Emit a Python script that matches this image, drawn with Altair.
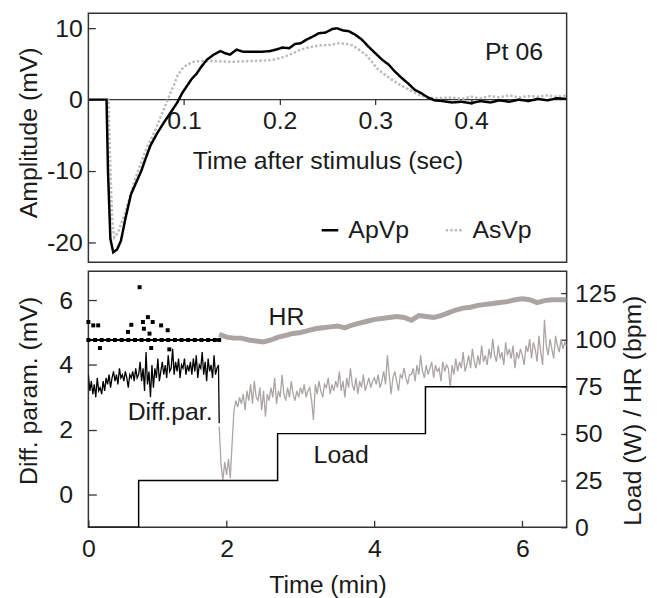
import altair as alt
import pandas as pd

FONT = "Liberation Sans"
BLACK = "#000000"
GRAY_TOP = "#bcbcbc"
GRAY_BOT = "#aca4a2"
FRAME = "#333333"
TXT = "#1a1a1a"

# ---------------- top panel: evoked response (time in s, amplitude in mV)
apvp = [(0.000, 0.0), (0.019, 0.0), (0.0205, -10.0), (0.023, -19.5), (0.026, -21.4),
        (0.030, -21.0), (0.034, -19.8), (0.039, -16.5), (0.0445, -13.3), (0.050, -11.6),
        (0.055, -10.1), (0.060, -8.2), (0.065, -6.4), (0.072, -4.7), (0.079, -3.2),
        (0.086, -1.8), (0.093, -0.4), (0.098, 0.9), (0.103, 1.9), (0.108, 2.9),
        (0.113, 3.6), (0.118, 4.6), (0.124, 5.6), (0.131, 6.3), (0.138, 6.8),
        (0.143, 6.5), (0.148, 6.3), (0.155, 7.0), (0.162, 6.7), (0.170, 6.7),
        (0.180, 6.7), (0.190, 6.8), (0.196, 7.0), (0.203, 7.3), (0.210, 7.2),
        (0.216, 7.8), (0.222, 7.9), (0.228, 8.4), (0.234, 8.8), (0.241, 9.3),
        (0.248, 9.4), (0.255, 9.9), (0.260, 10.0), (0.266, 9.7), (0.272, 9.6),
        (0.279, 9.1), (0.286, 8.4), (0.293, 7.4), (0.300, 6.5), (0.307, 5.6),
        (0.314, 4.9), (0.320, 4.0), (0.327, 3.1), (0.334, 2.3), (0.341, 1.4),
        (0.348, 0.9), (0.355, 0.3), (0.362, -0.1), (0.370, -0.2), (0.380, -0.4),
        (0.390, -0.3), (0.400, -0.5), (0.410, -0.2), (0.420, -0.4), (0.430, -0.1),
        (0.440, -0.3), (0.450, 0.0), (0.460, -0.2), (0.470, 0.1), (0.480, -0.1),
        (0.490, 0.2), (0.500, 0.1)]

asvp = [(0.000, 0.0), (0.021, 0.0), (0.023, -10.0), (0.025, -17.0), (0.027, -19.3),
        (0.031, -18.6), (0.034, -17.5), (0.038, -16.1), (0.043, -13.8), (0.048, -11.5),
        (0.053, -9.6), (0.058, -7.8), (0.063, -6.2), (0.069, -4.6), (0.074, -2.9),
        (0.079, -1.3), (0.083, 0.0), (0.086, 1.0), (0.090, 2.2), (0.093, 3.3),
        (0.098, 4.3), (0.103, 4.9), (0.110, 5.3), (0.117, 5.4), (0.130, 5.4),
        (0.150, 5.3), (0.170, 5.4), (0.186, 5.5), (0.193, 5.6), (0.200, 5.8),
        (0.207, 6.1), (0.214, 6.5), (0.220, 6.9), (0.227, 7.2), (0.234, 7.4),
        (0.241, 7.6), (0.252, 7.65), (0.262, 7.9), (0.270, 7.8), (0.276, 7.6),
        (0.283, 7.0), (0.290, 6.3), (0.297, 5.2), (0.303, 4.2), (0.310, 3.5),
        (0.317, 2.8), (0.324, 2.2), (0.331, 1.7), (0.338, 1.2), (0.345, 0.7),
        (0.355, 0.3), (0.365, 0.2), (0.380, 0.3), (0.390, 0.1), (0.400, 0.4),
        (0.410, 0.2), (0.420, 0.5), (0.430, 0.3), (0.440, 0.6), (0.450, 0.3),
        (0.460, 0.5), (0.470, 0.4), (0.480, 0.6), (0.490, 0.4), (0.500, 0.6)]

series_names = ["ApVp", "AsVp"]
top_ticks_x = [0.1, 0.2, 0.3, 0.4]
top_ticks_y = [-20, -10, 0, 10]
pt_label = [(0.445, 6.65, "Pt 06")]

# ---------------- bottom panel (time in min)
diff_black = [3.7, 3.2, 3.5, 3.1, 3.4, 3.0, 3.6, 3.2, 3.3, 3.1, 3.5, 3.2, 3.6, 3.4, 3.7, 3.3, 3.6,
              3.8, 3.5, 3.7, 3.4, 3.9, 3.6, 3.7, 3.5, 3.8, 3.6, 3.3, 3.7, 3.6, 3.8, 3.5, 3.9, 3.6, 3.7,
              4.1, 3.5, 3.9, 3.2, 4.4, 3.4, 3.8, 3.0, 4.0, 3.3, 3.9, 3.6, 4.2, 3.5,
              3.8, 4.1, 3.7, 4.0, 3.6, 4.3, 3.8, 3.9, 4.5, 3.7, 4.1, 3.8, 4.2, 3.6, 4.0, 3.9, 4.2, 3.7, 4.0, 3.8,
              4.1, 3.7, 4.2, 3.8, 4.3, 3.6, 4.0, 3.9, 4.4, 3.7, 4.1, 3.5, 4.2, 3.8, 4.0, 3.6, 4.3, 3.7, 3.9, 4.0,
              2.2]
diff_black_start, diff_black_step, diff_black_end = 0.13, 0.02, 1.90

diff_gray = [2.1, 0.9, 0.45, 1.0, 0.6, 1.1, 0.5, 1.6, 2.6, 2.9, 2.7, 3.0, 2.8, 3.1, 2.6, 3.2, 2.9,
             3.4, 2.8, 3.5, 3.0, 2.9, 3.3, 2.6, 3.2, 2.4, 3.1, 2.9, 3.3, 3.0, 3.6, 2.8, 3.2, 3.0, 3.7,
             3.1, 2.9, 3.3, 3.0, 3.5, 3.1, 2.9, 3.2, 3.0,
             3.3, 3.1, 3.4, 3.0, 3.2, 3.3, 2.9, 2.3, 3.4, 3.1, 3.5, 3.2, 3.0, 3.4, 3.3, 3.6, 3.1, 3.4, 3.2, 3.5,
             3.3, 3.8, 3.2, 3.5, 3.0, 3.6, 3.3, 3.9, 3.4, 3.2, 3.6, 3.1, 3.5, 3.3, 3.7, 3.2, 3.4, 3.6, 3.3, 3.5,
             3.6, 3.4, 3.7, 3.3, 3.5, 3.8, 3.4, 4.3, 3.7, 3.1, 3.6, 3.8, 3.5, 3.2, 3.7, 3.6, 3.9, 3.6, 3.4, 3.7,
             3.7, 3.9, 3.5, 4.0, 3.7, 4.3, 3.8, 3.6, 4.0, 3.7, 3.9, 4.1, 3.6, 4.0, 3.8, 3.9, 3.5, 4.1, 3.8, 4.0,
             3.9, 3.3, 4.0, 3.7, 4.2, 3.8, 4.1, 3.9, 4.4, 3.8, 4.0, 4.3, 3.9, 4.5, 4.1, 3.9, 4.3, 4.0, 4.6, 4.1,
             4.3, 4.0, 4.5, 4.2, 4.8, 4.3, 4.1, 4.6, 4.2, 4.4, 4.0, 4.7, 4.3, 4.5, 4.2, 4.6, 3.9, 4.4, 4.2, 4.5,
             4.3, 4.0, 4.6, 4.4, 4.8, 4.2, 4.7, 4.5, 4.1, 4.9, 4.4, 4.0, 5.4, 4.6, 4.3, 4.8, 4.5, 4.2, 4.9, 4.6,
             4.4, 4.8, 4.5, 4.7, 4.6]
diff_gray_start, diff_gray_step = 1.90, 0.025

hr_gray = [103, 101.5, 101, 101, 100, 99.5, 99, 100, 101.5, 102.5,
           103.5, 104, 105, 106, 106.5, 107, 107.5, 106.5, 108, 109,
           110, 111, 111.5, 112, 112.5, 112, 110.5, 113, 112.5, 112,
           113, 114.5, 116, 117, 117.5, 118.5, 119, 119.5, 120, 120.5,
           121.5, 122, 121.5, 120, 121, 121.5, 121.5, 121.5]
hr_gray_start, hr_gray_step = 1.90, 0.1

hr_paced_t = [0.13, 0.22, 0.31, 0.40, 0.49, 0.58, 0.67, 0.76, 0.85, 0.94,
              1.03, 1.12, 1.21, 1.30, 1.39, 1.48, 1.57, 1.66, 1.75, 1.84, 1.90]
hr_paced_bpm = [100] * len(hr_paced_t)
hr_outliers = [(0.13, 109.6), (0.196, 107.8), (0.263, 107.8), (0.286, 95.7), (0.666, 104.3),
               (0.711, 108.1), (0.823, 128.2), (0.868, 109.6), (0.881, 106.0), (0.935, 112.2),
               (0.957, 103.4), (0.98, 95.7), (1.0, 109.6), (1.114, 107.8), (1.203, 105.2),
               (1.225, 95.0)]

load_t = [0.13, 0.81, 2.69, 4.69, 6.60]
load_w = [0, 25, 50, 75, 75]

left_ticks = [0, 2, 4, 6]
right_ticks = [0, 25, 50, 75, 100, 125]
bottom_ticks = [0.13, 2, 4, 6]

labels_left = [(1.236, 2.53, "Diff.par.")]
labels_right = [(2.81, 112.2, "HR"), (3.55, 38.3, "Load")]

# ---------------- build frames
top_df = pd.DataFrame(
    [(t, v, "ApVp") for t, v in apvp] + [(t, v, "AsVp") for t, v in asvp],
    columns=["t", "v", "series"])
pt_df = pd.DataFrame(pt_label, columns=["t", "v", "label"])
zero_df = pd.DataFrame({"v": [0]})

n_b = len(diff_black)
db_t = [diff_black_start + diff_black_step * i for i in range(n_b - 1)] + [diff_black_end]
db_df = pd.DataFrame({"t": db_t, "v": diff_black})
dg_df = pd.DataFrame({"t": [diff_gray_start + diff_gray_step * i for i in range(len(diff_gray))],
                      "v": diff_gray})
hrg_df = pd.DataFrame({"t": [hr_gray_start + hr_gray_step * i for i in range(len(hr_gray))],
                       "v": hr_gray})
hrp_df = pd.DataFrame({"t": hr_paced_t, "v": hr_paced_bpm})
hro_df = pd.DataFrame(hr_outliers, columns=["t", "v"])
load_df = pd.DataFrame({"t": load_t, "v": load_w})
ltxt_df = pd.DataFrame(labels_left, columns=["t", "v", "label"])
rtxt_df = pd.DataFrame(labels_right, columns=["t", "v", "label"])

W = 482
H_TOP = 251
H_BOT = 258

# ---------------- top panel
xs_top = alt.Scale(domain=[0, 0.5], nice=False, zero=False)
ys_top = alt.Scale(domain=[-22.8, 12.1], nice=False, zero=False)
x_top_axis = alt.Axis(values=top_ticks_x, format=".1f", offset=-164, tickSize=5,
                      domain=False, grid=False, labelPadding=4, labelFlush=False,
                      title="Time after stimulus (sec)", titlePadding=15)
y_top_axis = alt.Axis(values=top_ticks_y, offset=-7, tickSize=7, domain=False, grid=False,
                      labelExpr="datum.value < 0 ? '-' + format(-datum.value, 'd') : format(datum.value, 'd')",
                      labelPadding=6, title="Amplitude (mV)", titlePadding=5, titleY=120)

leg = alt.Legend(orient="none", legendX=231, legendY=206, direction="horizontal",
                 symbolType="stroke", symbolSize=280, symbolStrokeWidth=2.5,
                 labelOffset=6, columnPadding=31, labelFontSize=25, labelFont=FONT,
                 labelColor=TXT)
color_enc = alt.Color("series:N", title=None, legend=leg,
                      scale=alt.Scale(domain=series_names, range=[BLACK, GRAY_TOP]))
dash_enc = alt.StrokeDash("series:N", title=None, legend=leg,
                          scale=alt.Scale(domain=series_names, range=[[1, 0], [2.5, 2]]))

zero_rule = alt.Chart(zero_df).mark_rule(color=FRAME, strokeWidth=1.3).encode(
    y=alt.Y("v:Q", scale=ys_top, axis=y_top_axis))


def top_line(name):
    return alt.Chart(top_df).transform_filter(alt.datum.series == name).mark_line(
        strokeWidth=2.5, clip=True).encode(
        x=alt.X("t:Q", scale=xs_top, axis=x_top_axis),
        y=alt.Y("v:Q", scale=ys_top, axis=y_top_axis),
        color=color_enc, strokeDash=dash_enc)


pt_text = alt.Chart(pt_df).mark_text(fontSize=25, font=FONT, color=TXT).encode(
    x=alt.X("t:Q", scale=xs_top, axis=x_top_axis),
    y=alt.Y("v:Q", scale=ys_top, axis=y_top_axis),
    text="label:N")

top = alt.layer(zero_rule, top_line("AsVp"), top_line("ApVp"), pt_text).properties(
    width=W, height=H_TOP)

# ---------------- bottom panel
xs_bot = alt.Scale(domain=[0.13, 6.6], nice=False, zero=False)
yl = alt.Scale(domain=[-1.02, 6.9], nice=False, zero=False)
yr = alt.Scale(domain=[0, 136.7], nice=False, zero=False)

x_bot_axis = alt.Axis(values=bottom_ticks,
                      labelExpr="datum.value < 1 ? '0' : format(datum.value, 'd')",
                      offset=-7, tickSize=7, domain=False, grid=False, labelPadding=9,
                      labelFlush=False, title="Time (min)", titlePadding=12)
yl_axis = alt.Axis(values=left_ticks, offset=-8, tickSize=8, domain=False, grid=False,
                   labelPadding=16, title="Diff. param. (mV)", titlePadding=17, titleY=120)
yr_axis = alt.Axis(values=right_ticks, orient="right", offset=-6, tickSize=6, domain=False,
                   grid=False, labelPadding=8, title="Load (W) / HR (bpm)", titleAngle=270,
                   titleBaseline="top", titlePadding=5, titleY=140)


def enc_l():
    return dict(x=alt.X("t:Q", scale=xs_bot, axis=x_bot_axis),
                y=alt.Y("v:Q", scale=yl, axis=yl_axis))


def enc_r():
    return dict(x=alt.X("t:Q", scale=xs_bot, axis=x_bot_axis),
                y=alt.Y("v:Q", scale=yr, axis=yr_axis))


gray_diff = alt.Chart(dg_df).mark_line(color=GRAY_BOT, strokeWidth=1.3, clip=True).encode(**enc_l())
black_diff = alt.Chart(db_df).mark_line(color=BLACK, strokeWidth=1.3, clip=True).encode(**enc_l())
diff_text = alt.Chart(ltxt_df).mark_text(fontSize=25, font=FONT, color=TXT).encode(
    text="label:N", **enc_l())

hr_gray_line = alt.Chart(hrg_df).mark_line(color=GRAY_BOT, strokeWidth=5, clip=True).encode(**enc_r())
hr_paced_line = alt.Chart(hrp_df).mark_line(color=BLACK, strokeWidth=2.2, clip=True).encode(**enc_r())
hr_paced_dots = alt.Chart(hrp_df).mark_square(color=BLACK, size=16, opacity=1).encode(**enc_r())
hr_out_dots = alt.Chart(hro_df).mark_square(color=BLACK, size=16, opacity=1).encode(**enc_r())
load_line = alt.Chart(load_df).mark_line(color=BLACK, strokeWidth=1.5, interpolate="step-after",
                                         clip=True).encode(**enc_r())
r_text = alt.Chart(rtxt_df).mark_text(fontSize=25, font=FONT, color=TXT).encode(
    text="label:N", **enc_r())

bot_left = alt.layer(gray_diff, black_diff, diff_text)
bot_right = alt.layer(hr_gray_line, hr_paced_line, hr_paced_dots, hr_out_dots, load_line, r_text)
bottom = alt.layer(bot_left, bot_right).resolve_scale(y="independent").properties(
    width=W, height=H_BOT)

chart = alt.vconcat(top, bottom, spacing=7).properties(
    padding={"left": 8, "top": 2, "right": 2, "bottom": 0}
).configure_view(stroke=FRAME, strokeWidth=1.5).configure_axis(
    labelFont=FONT, titleFont=FONT, labelFontSize=25, titleFontSize=25,
    titleFontWeight="normal", tickColor=FRAME, tickWidth=1.3, labelColor=TXT, titleColor=TXT
).configure_legend(labelFont=FONT)

chart.save("out.html", embed_options={"renderer": "svg", "actions": False})
